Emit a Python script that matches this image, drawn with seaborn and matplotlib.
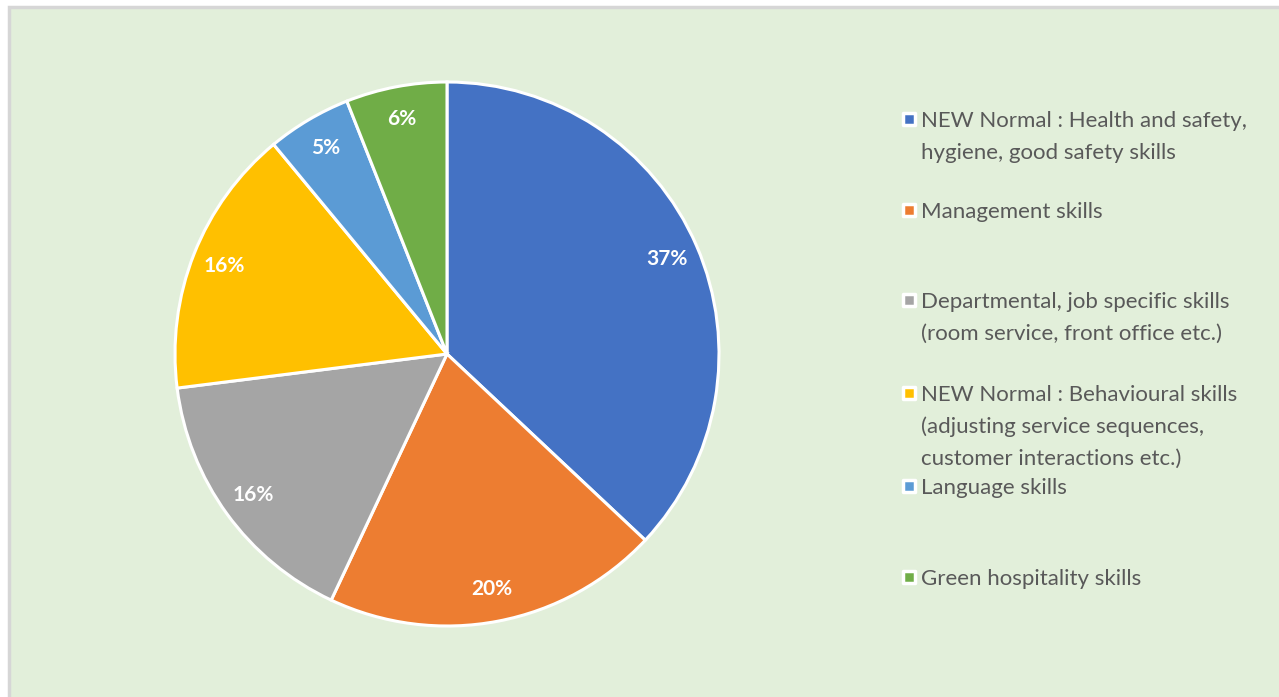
import matplotlib
matplotlib.use("Agg")
import matplotlib.pyplot as plt
from matplotlib.patches import Rectangle
import seaborn as sns

categories = [
    "NEW Normal : Health and safety,\nhygiene, good safety skills",
    "Management skills",
    "Departmental, job specific skills\n(room service, front office etc.)",
    "NEW Normal : Behavioural skills\n(adjusting service sequences,\ncustomer interactions etc.)",
    "Language skills",
    "Green hospitality skills",
]
values = [37, 20, 16, 16, 5, 6]
colors = ["#4472C4", "#ED7D31", "#A5A5A5", "#FFC000", "#5B9BD5", "#70AD47"]

sns.set_theme(style="white")
plt.rcParams["font.family"] = ["Lato", "DejaVu Sans"]

W, H = 1279, 697
fig = plt.figure(figsize=(W / 100, H / 100), dpi=100, facecolor="white")

# background overlay in pixel coords
bg = fig.add_axes([0, 0, 1, 1])
bg.set_xlim(0, W)
bg.set_ylim(H, 0)
bg.axis("off")
bg.add_patch(Rectangle((9, 7), W, H, facecolor="#E2EFDA", edgecolor="#D6D6D6", linewidth=2.5))

# pie axes
cx, cy, r = 447, 354, 272
ax = fig.add_axes([(cx - r) / W, (H - cy - r) / H, 2 * r / W, 2 * r / H])
pal = sns.color_palette(colors)
wedges, texts, autotexts = ax.pie(
    values, colors=pal, startangle=90, counterclock=False, radius=1,
    autopct=lambda p: f"{p:.0f}%", pctdistance=0.88,
    wedgeprops=dict(edgecolor="white", linewidth=2.2),
    textprops=dict(color="white", fontsize=15, fontweight="bold"),
)
ax.set_xlim(-1, 1)
ax.set_ylim(-1, 1)
ax.axis("off")

# legend in pixel coordinates
leg_y = [121, 212, 302, 395, 488, 579]
for lab, col, y in zip(categories, colors, leg_y):
    bg.scatter([909], [y - 2], marker="s", s=70, facecolor=col, edgecolor="white", linewidths=2.5, zorder=3)
    for i, line in enumerate(lab.split("\n")):
        bg.text(921, y + i * 32, line, color="#595959", fontsize=16, va="center", ha="left")

fig.savefig("out.png", dpi=100, facecolor="white")
